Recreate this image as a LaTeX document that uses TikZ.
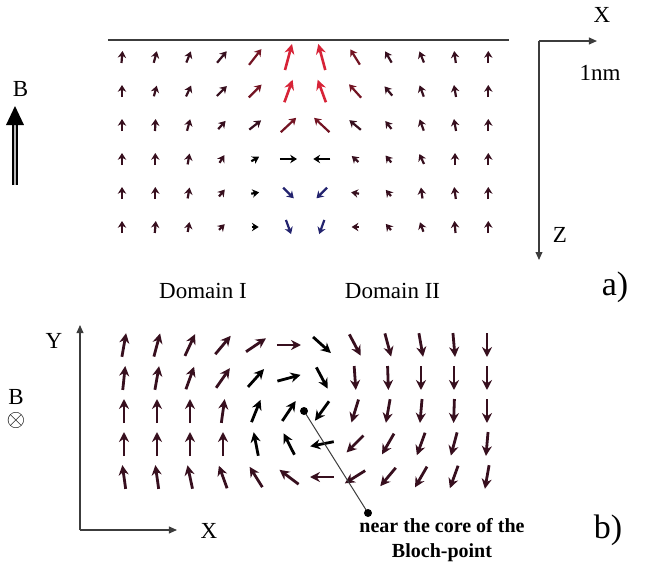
\documentclass[tikz,border=0pt]{standalone}
\usepackage{fontspec}
\setmainfont{Liberation Serif}
\usepackage{tikz}
\usetikzlibrary{arrows.meta, positioning}
\definecolor{spindark}{RGB}{55,15,30}
\definecolor{spinmaroon}{RGB}{115,20,35}
\definecolor{spinred}{RGB}{215,35,55}
\definecolor{spinblue}{RGB}{35,35,110}
\definecolor{axisgray}{RGB}{60,60,60}
\tikzset{
  spin/.style={line width=1.1pt, -{Stealth[length=3.4pt, width=4.2pt]}},
  sdark/.style={color=spindark},
  smaroon/.style={color=spinmaroon},
  sred/.style={color=spinred, line width=1.3pt, -{Stealth[length=5pt, width=5pt]}},
  sblue/.style={color=spinblue},
  sblack/.style={color=black},
  swirl/.style={line width=1.4pt, -{Stealth[length=5pt, width=5pt]}},
  axisarrow/.style={axisgray, line width=0.7pt, -{Triangle[length=4pt, width=3.4pt]}},
  leader/.style={axisgray, line width=0.5pt},
  lbl/.style={font=\fontsize{11.5}{14}\selectfont},
  tag/.style={font=\fontsize{17}{20}\selectfont}
}

\begin{document}
\begin{tikzpicture}[x=0.5pt, y=-0.5pt, lbl]
  \useasboundingbox (0,0) rectangle (645,568);

  % a) cut in the x-z plane
  \coordinate (surfL) at (108,40);
  \coordinate (surfR) at (509,40);
  \draw[axisgray, line width=0.8pt] (surfL) -- (surfR);

  \foreach \ang/\len/\col [count=\i] in {5/12/sdark, 15/12/sdark, 22/12/sdark, 40/15/sdark, 38/20/smaroon, 15/27/sred, -15/27/sred, -32/18/smaroon, -30/13/sdark, -22/12/sdark, -8/12/sdark, 0/12/sdark}
    \draw[spin, \col] ({122+33.3*(\i-1)},57) ++({\ang+90}:{\len/2}) -- ++({\ang-90}:\len);
  \foreach \ang/\len/\col [count=\i] in {0/12/sdark, 15/11/sdark, 25/12/sdark, 45/14/sdark, 45/18/smaroon, 20/24/sred, -20/24/sred, -42/18/smaroon, -40/12/sdark, -20/12/sdark, -10/12/sdark, 0/12/sdark}
    \draw[spin, \col] ({122+33.3*(\i-1)},91) ++({\ang+90}:{\len/2}) -- ++({\ang-90}:\len);
  \foreach \ang/\len/\col [count=\i] in {0/12/sdark, 3/12/sdark, 15/12/sdark, 42/11/sdark, 52/15/sdark, 47/21/smaroon, -47/21/smaroon, -50/15/sdark, -38/10/sdark, -20/12/sdark, -10/12/sdark, 0/12/sdark}
    \draw[spin, \col] ({122+33.3*(\i-1)},125) ++({\ang+90}:{\len/2}) -- ++({\ang-90}:\len);
  \foreach \ang/\len/\col [count=\i] in {0/12/sdark, 0/12/sdark, 10/11/sdark, 32/9/sdark, 60/9/sblack, 90/17/sblack, -90/17/sblack, -48/9/sdark, -40/9/sdark, -25/11/sdark, 0/12/sdark, 0/12/sdark}
    \draw[spin, \col] ({122+33.3*(\i-1)},159) ++({\ang+90}:{\len/2}) -- ++({\ang-90}:\len);
  \foreach \ang/\len/\col [count=\i] in {0/12/sdark, 0/12/sdark, 10/11/sdark, 40/9/sdark, 80/8/sblack, 135/15/sblue, -135/15/sblue, -80/8/sdark, -40/8/sdark, -8/11/sdark, -8/12/sdark, 0/12/sdark}
    \draw[spin, \col] ({122+33.3*(\i-1)},193) ++({\ang+90}:{\len/2}) -- ++({\ang-90}:\len);
  \foreach \ang/\len/\col [count=\i] in {0/12/sdark, 5/12/sdark, 10/10/sdark, 45/8/sdark, 90/7/sblack, 160/15/sblue, -160/15/sblue, -90/7/sdark, -40/8/sdark, -20/10/sdark, -5/12/sdark, 0/12/sdark}
    \draw[spin, \col] ({122+33.3*(\i-1)},227) ++({\ang+90}:{\len/2}) -- ++({\ang-90}:\len);

  % field B, up
  \coordinate (bTail) at (15,185);
  \coordinate (bNeck) at (15,124);
  \draw[double=gray!55, double distance=1.2pt, line width=0.8pt] (bTail) -- (bNeck);
  \fill (6,125) -- (24,125) -- (15,106) -- cycle;
  \node (fieldB) at (20.5,89) {B};

  % x-z axes
  \coordinate (origA) at (539,41);
  \coordinate (xEndA) at (597,41);
  \coordinate (zEndA) at (539,260);
  \draw[axisarrow] (origA) -- (xEndA);
  \draw[axisarrow] (origA) -- (zEndA);
  \node (lblXa) at (602,15) {X};
  \node (lblScale) at (600,73) {1nm};
  \node (lblZ) at (560,234.5) {Z};
  \node[tag] (tagA) at (615,287) {a)};

  \node (domI) at (203,291) {Domain I};
  \node (domII) at (392.5,291) {Domain II};

  % b) plane x-y
  \foreach \ang/\col [count=\i] in {10/sdark, 15/sdark, 25/sdark, 40/sdark, 56/sdark, 90/sdark, 132/sblack, 152/sdark, 165/sdark, 170/sdark, 175/sdark, 180/sdark}
    \draw[swirl, \col] ({124+33*(\i-1)},345) ++({\ang+90}:12) -- ++({\ang-90}:24);
  \foreach \ang/\col [count=\i] in {6/sdark, 10/sdark, 20/sdark, 35/sdark, 42/sblack, 75/sblack, 152/sblack, 176/sdark, 178/sdark, 180/sdark, 180/sdark, 180/sdark}
    \draw[swirl, \col] ({124+33*(\i-1)},378) ++({\ang+90}:12) -- ++({\ang-90}:24);
  \foreach \ang/\col [count=\i] in {0/sdark, 0/sdark, 0/sdark, 8/sdark, 22/sblack, 34/sblack, 216/sblack, 197/sdark, 190/sdark, 185/sdark, 182/sdark, 180/sdark}
    \draw[swirl, \col] ({124+33*(\i-1)},411) ++({\ang+90}:12) -- ++({\ang-90}:24);
  \foreach \ang/\col [count=\i] in {0/sdark, 0/sdark, 0/sdark, 0/sdark, -11/sblack, -27/sblack, 259/sblack, 225/sdark, 210/sdark, 200/sdark, 195/sdark, 185/sdark}
    \draw[swirl, \col] ({124+33*(\i-1)},444) ++({\ang+90}:12) -- ++({\ang-90}:24);
  \foreach \ang/\col [count=\i] in {-8/sdark, -8/sdark, -12/sdark, -20/sdark, -32/sdark, -53/sdark, 270/sdark, 238/sdark, 220/sdark, 210/sdark, 200/sdark, 190/sdark}
    \draw[swirl, \col] ({124+33*(\i-1)},477) ++({\ang+90}:12) -- ++({\ang-90}:24);

  % Bloch point marker
  \coordinate (core) at (304,411);
  \coordinate (coreEnd) at (368,513);
  \draw[leader] (core) -- (coreEnd);
  \fill (core) circle (4);
  \fill (coreEnd) circle (4);
  \node[align=center, font=\fontsize{10}{12.5}\selectfont\bfseries] (coreNote) at (442,540.5) {near the core of the\\Bloch-point};

  % field B, into the page
  \node[align=center, font=\fontsize{11.5}{13}\selectfont] (fieldBb) at (16,409) {B\\[-2pt]$\otimes$};

  % x-y axes
  \coordinate (origB) at (80,530);
  \coordinate (yEndB) at (80,325);
  \coordinate (xEndB) at (177,530);
  \draw[axisarrow] (origB) -- (yEndB);
  \draw[axisarrow] (origB) -- (xEndB);
  \node (lblY) at (54,341) {Y};
  \node (lblXb) at (209,530.5) {X};
  \node[tag] (tagB) at (608,530) {b)};
\end{tikzpicture}
\end{document}
